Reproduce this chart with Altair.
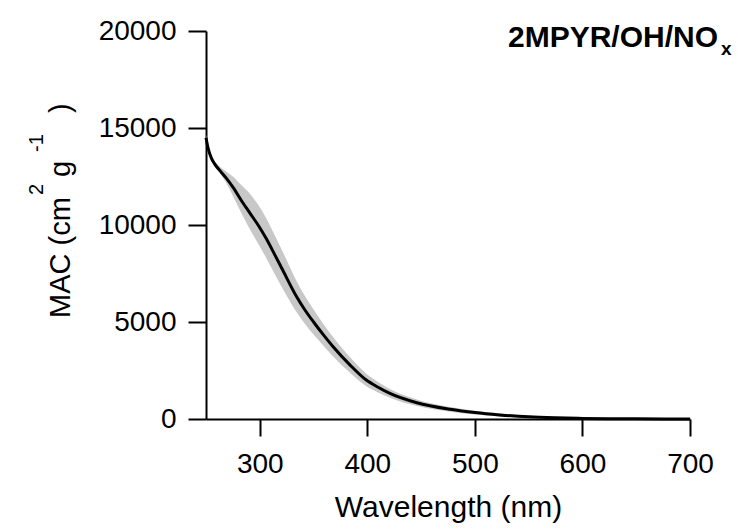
import altair as alt
import pandas as pd

# Wavelength (nm)
wavelength = [250, 252, 255, 258, 263, 269, 275, 283, 291, 299, 306, 314, 322, 334, 342, 350,
              359, 368, 384, 399, 410, 421, 446, 477, 500, 523, 550, 575, 600, 625, 650, 675, 700]
# Mean MAC (cm2 g-1)
mac_mean = [14500, 13950, 13450, 13150, 12800, 12400, 11950, 11250, 10600, 9950, 9300, 8460,
            7600, 6330, 5620, 5000, 4350, 3740, 2780, 2010, 1640, 1320, 840, 500, 330, 210, 110,
            60, 30, 15, 8, 4, 2]
# Uncertainty band upper / lower
mac_upper = [14650, 14100, 13600, 13300, 13000, 12750, 12500, 12050, 11600, 11000, 10350, 9460,
             8550, 7130, 6340, 5650, 4910, 4240, 3180, 2330, 1910, 1550, 1010, 620, 430, 290, 170,
             100, 60, 35, 23, 14, 7]
mac_lower = [14350, 13800, 13300, 13000, 12650, 12150, 11500, 10600, 9750, 9000, 8300, 7460,
             6650, 5530, 4900, 4350, 3790, 3240, 2380, 1690, 1370, 1090, 670, 380, 230, 130, 50,
             20, 0, 0, 0, 0, 0]

x_ticks = [300, 400, 500, 600, 700]
y_ticks = [0, 5000, 10000, 15000, 20000]

df = pd.DataFrame({"wl": wavelength, "mac": mac_mean, "hi": mac_upper, "lo": mac_lower})

W, H = 484, 388
FONT = "Liberation Sans"

xscale = alt.Scale(domain=[250, 700], nice=False, zero=False)
yscale = alt.Scale(domain=[0, 20000], nice=False)

x_axis = alt.Axis(values=x_ticks, title="Wavelength (nm)", grid=False, domainColor="black",
                  domainWidth=2, tickColor="black", tickWidth=2, tickSize=17, format="d",
                  labelFont=FONT, labelFontSize=28, labelColor="black", labelPadding=14,
                  titleFont=FONT, titleFontSize=30, titleFontWeight="normal",
                  titleColor="black", titlePadding=14, labelFlush=False)
y_axis = alt.Axis(values=y_ticks, title=None, grid=False, domainColor="black",
                  domainWidth=2, tickColor="black", tickWidth=2, tickSize=18, format="d",
                  labelFont=FONT, labelFontSize=28, labelColor="black", labelPadding=12,
                  labelFlush=False)

band = alt.Chart(df).mark_area(color="#c8c8c8", opacity=1, interpolate="monotone").encode(
    x=alt.X("wl:Q", scale=xscale, axis=x_axis),
    y=alt.Y("hi:Q", scale=yscale, axis=y_axis),
    y2="lo:Q",
)
line = alt.Chart(df).mark_line(color="black", strokeWidth=3, interpolate="monotone").encode(
    x=alt.X("wl:Q", scale=xscale),
    y=alt.Y("mac:Q", scale=yscale),
)


def label(txt, x, y, size, weight="normal", align="left", angle=0):
    return alt.Chart(pd.DataFrame({"t": [txt]})).mark_text(
        font=FONT, fontSize=size, fontWeight=weight, align=align, baseline="alphabetic",
        color="black", angle=angle
    ).encode(text="t:N", x=alt.value(x), y=alt.value(y))


title_parts = [
    label("2MPYR/OH/NO", 512, 16, 30, "bold", "right"),
    label("x", 515, 24, 19, "bold", "left"),
]
ytitle_parts = [
    label("MAC (cm", -136, 287, 29, angle=270),
    label("2", -163, 164, 20, angle=270),
    label("g", -136, 146, 29, angle=270),
    label("-1", -163, 121, 20, angle=270),
    label(")", -136, 82, 29, angle=270),
]

chart = alt.layer(band, line, *title_parts, *ytitle_parts).properties(
    width=W, height=H,
    autosize=alt.AutoSizeParams(type="none"),
    padding={"left": 206, "top": 31, "right": 48, "bottom": 110},
    background="white",
).configure_view(stroke=None)

chart.save("out.html", embed_options={"renderer": "svg", "actions": False})
